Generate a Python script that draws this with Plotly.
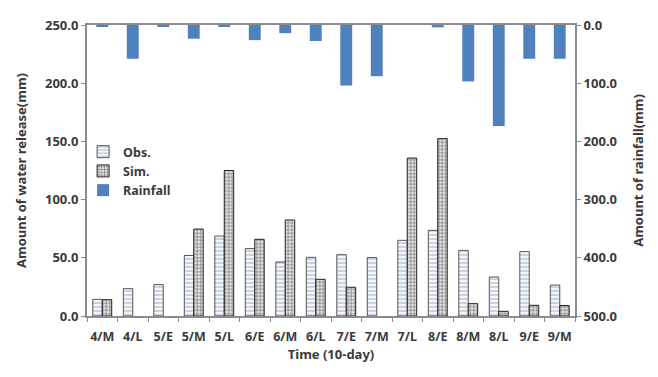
import plotly.graph_objects as go

categories = ["4/M", "4/L", "5/E", "5/M", "5/L", "6/E", "6/M", "6/L",
              "7/E", "7/M", "7/L", "8/E", "8/M", "8/L", "9/E", "9/M"]
obs = [14.3, 23.5, 27.0, 52.0, 68.7, 57.9, 46.4, 50.4,
       52.7, 50.2, 65.0, 73.6, 56.4, 33.5, 55.3, 26.6]
sim = [14.0, None, None, 74.7, 125.0, 65.9, 82.5, 31.5,
       24.7, None, 135.7, 152.4, 10.6, 4.0, 9.2, 9.0]
rain = [3.0, 58.0, 2.0, 23.5, 2.0, 26.0, 14.0, 27.5,
        104.0, 88.0, None, 4.0, 97.0, 173.5, 58.0, 58.0]

left_ticks = [0, 50, 100, 150, 200, 250]
right_ticks = [0, 100, 200, 300, 400, 500]

FAM = "Noto Sans"
TXT = "#3a3a3a"
tickfont = dict(family=FAM, size=13, color=TXT, weight="bold")
xtickfont = dict(family=FAM, size=12.5, color=TXT, weight="bold")
titlefont = dict(family=FAM, size=13, color=TXT, weight="bold")

fig = go.Figure()
fig.add_trace(go.Bar(
    x=categories, y=obs, name="Obs.", width=0.31, offset=-0.31,
    marker=dict(color="white",
                line=dict(color="#555555", width=1),
                pattern=dict(shape="-", fgcolor="#6f7f95", bgcolor="#f2f6fb",
                             size=4, solidity=0.3)),
    xaxis="x", yaxis="y"))
fig.add_trace(go.Bar(
    x=categories, y=sim, name="Sim.", width=0.31, offset=0.0,
    marker=dict(color="white",
                line=dict(color="#222222", width=1),
                pattern=dict(shape="+", fgcolor="#222222", bgcolor="#e8e8e8",
                             size=3.5, solidity=0.45)),
    xaxis="x", yaxis="y"))
fig.add_trace(go.Bar(
    x=categories, y=rain, name="Rainfall", width=0.39, offset=-0.195,
    marker=dict(color="#4f81bd", line=dict(width=0)),
    xaxis="x", yaxis="y2"))

fig.update_layout(
    width=658, height=377,
    margin=dict(l=87, r=83, t=25, b=61),
    paper_bgcolor="white", plot_bgcolor="white",
    barmode="overlay",
    font=dict(family=FAM, size=13, color=TXT),
    showlegend=True,
    legend=dict(x=-0.008, y=0.615, xanchor="left", yanchor="top",
                bgcolor="rgba(0,0,0,0)",
                font=dict(family=FAM, size=12.5, color=TXT, weight="bold"),
                itemwidth=30, tracegroupgap=0, traceorder="normal"),
    xaxis=dict(type="category", categoryorder="array", categoryarray=categories,
               showline=True, linecolor="#8c8c8c", linewidth=2, mirror=True,
               ticks="outside", ticklen=4, tickcolor="#8c8c8c", tickson="boundaries",
               ticklabelstandoff=8, tickangle=0,
               showgrid=False,
               tickfont=xtickfont,
               title=dict(text="Time (10-day)", standoff=6, font=titlefont)),
    yaxis=dict(range=[0, 250], tickvals=left_ticks,
               ticktext=[f"{v:.1f}" for v in left_ticks],
               showline=True, linecolor="#8c8c8c", linewidth=2,
               ticks="outside", ticklen=4, tickcolor="#8c8c8c",
               showgrid=False, zeroline=False,
               tickfont=tickfont,
               title=dict(text="Amount of water release(mm)", standoff=15, font=titlefont)),
    yaxis2=dict(range=[500, 0], tickvals=right_ticks,
                ticktext=[f"{v:.1f}" for v in right_ticks],
                overlaying="y", side="right",
                showline=True, linecolor="#8c8c8c", linewidth=2,
                ticks="outside", ticklen=4, tickcolor="#8c8c8c",
                showgrid=False, zeroline=False,
                tickfont=tickfont,
                title=dict(text="Amount of rainfall(mm)", standoff=18, font=titlefont)),
)

fig.write_html("out.html")
